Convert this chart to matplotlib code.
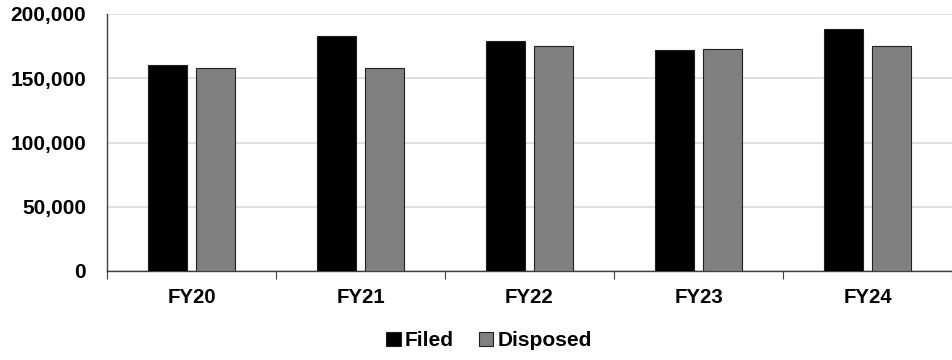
import numpy as np
import matplotlib
matplotlib.use("Agg")
from matplotlib import pyplot as plt

plt.rcParams['font.family'] = ['Liberation Sans', 'DejaVu Sans']
plt.rcParams['font.weight'] = 'bold'

years = ['FY20', 'FY21', 'FY22', 'FY23', 'FY24']
filed = [160000, 182800, 178600, 172100, 188000]
disposed = [157900, 157700, 175200, 172900, 175000]

x = np.arange(len(years))
w = 0.228
off = 0.143

fig = plt.figure(figsize=(9.53, 3.6), dpi=100)
ax = fig.add_axes([107/953, 89/360, 845/953, 257/360])

ax.bar(x - off, filed, w, color='black', edgecolor='#202020', linewidth=0.8, label='Filed', zorder=3)
ax.bar(x + off, disposed, w, color='#808080', edgecolor='#202020', linewidth=0.8, label='Disposed', zorder=3)

ax.set_ylim(0, 200000)
ax.set_xlim(-0.5, len(years) - 0.5)
ax.set_yticks(np.arange(0, 200001, 50000))
ax.set_yticklabels([f'{v:,}' for v in range(0, 200001, 50000)], fontsize=15, fontweight='bold')
ax.yaxis.grid(True, color='#d9d9d9', linewidth=1.2, zorder=0)
ax.set_axisbelow(True)
ax.tick_params(axis='y', length=0, pad=15)

ax.set_xticks(x)
ax.set_xticklabels(years, fontsize=14.7, fontweight='bold')
ax.tick_params(axis='x', which='major', length=0, pad=12)
ax.set_xticks(np.arange(-0.5, len(years)), minor=True)
ax.tick_params(axis='x', which='minor', length=6, width=0.8, color='#404040', direction='out')

for s in ['top', 'right']:
    ax.spines[s].set_visible(False)
ax.spines['left'].set_color('#404040')
ax.spines['bottom'].set_color('#404040')
ax.spines['left'].set_linewidth(1.0)
ax.spines['bottom'].set_linewidth(1.0)

fig.legend(loc='lower center', bbox_to_anchor=(0.513, -0.025), ncol=2, frameon=False,
           prop={'size': 15, 'weight': 'bold'}, handlelength=0.7, handleheight=0.7,
           handletextpad=0.2, columnspacing=1.2)

fig.savefig('out.png', dpi=100)
